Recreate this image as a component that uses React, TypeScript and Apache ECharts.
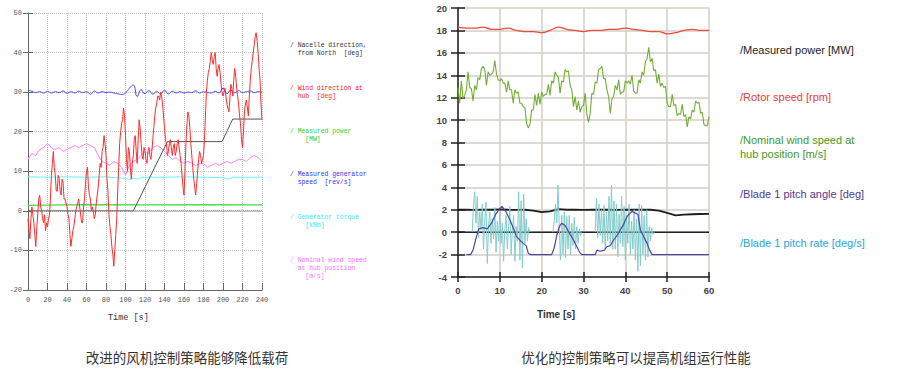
import React, { useEffect, useRef } from "react";
import * as echarts from "echarts";

// ---------------- Left chart data (time step 1 s / 4 s) ----------------
const WIND_DIR_STEP = 1;
const windDirV = [
  -2, -5, -7, -2, 1, -1, -3, -6, -9, -4,
  -1, 3, 4, 1, 0, -2, -3, -1, -5, -3,
  -4, -2, -1, 3, 9, 12, 15, 11, 9, 5,
  5, 9, 8, 5, 4, 8, 7, 3, 3, 2,
  1, -1, -2, -6, -9, -7, -5, -4, -2, 0,
  1, 2, 3, 1, -1, -3, -3, 1, 3, 7,
  10, 11, 6, 4, 3, 0, 1, 0, -2, -1,
  2, 4, 6, 9, 12, 11, 15, 16, 19, 17,
  14, 8, 5, -1, -4, -6, -9, -11, -14, -10,
  -6, -2, 5, 11, 17, 20, 22, 23, 26, 24,
  19, 13, 10, 16, 15, 11, 8, 12, 14, 18,
  19, 15, 12, 18, 23, 21, 17, 14, 13, 16,
  15, 13, 12, 15, 16, 14, 13, 15, 18, 21,
  24, 26, 27, 29, 29, 28, 30, 29, 27, 24,
  21, 18, 17, 14, 15, 17, 18, 16, 14, 16,
  17, 14, 15, 17, 18, 16, 14, 12, 9, 6,
  4, 10, 17, 22, 25, 24, 21, 17, 14, 11,
  8, 6, 4, 7, 10, 13, 15, 14, 12, 13,
  14, 18, 24, 30, 33, 35, 36, 38, 40, 38,
  37, 39, 40, 36, 34, 36, 37, 35, 32, 30,
  29, 30, 31, 29, 27, 26, 25, 28, 32, 31,
  29, 33, 36, 34, 31, 29, 27, 24, 22, 18,
  16, 20, 25, 27, 28, 26, 24, 29, 33, 36,
  38, 40, 42, 44, 45, 43, 40, 36, 33, 27,
  23,
];

const SLOW_STEP = 4;
const genSpeedV = [
  30.5, 30.2, 29.9, 30.1, 29.8, 30.2, 29.8, 30.1, 29.9, 30.3,
  29.7, 30.1, 29.8, 30.2, 29.9, 30.1, 29.5, 30.3, 29.8, 30.1,
  29.9, 30.0, 29.8, 29.6, 29.4, 29.8, 31.0, 31.8, 28.9, 30.6,
  29.6, 30.4, 29.5, 30.1, 29.6, 30.5, 29.5, 30.2, 29.8, 30.1,
  29.8, 30.0, 29.9, 30.3, 29.8, 30.1, 29.9, 29.8, 30.2, 29.8,
  31.0, 29.6, 30.5, 29.8, 30.4, 29.9, 30.1, 30.3, 29.9, 30.1,
  30.0,
];
const hubWindV = [
  13, 14.5, 14, 15.5, 16, 17, 16, 15.5, 16, 15,
  15.5, 16, 16.5, 16, 16.5, 17, 16.5, 16, 14, 12.5,
  12, 11.5, 12.5, 12, 11, 9, 11.5, 12.5, 13, 14,
  15, 14.5, 16, 16.5, 16, 15, 14, 13, 13.5, 12.5,
  12, 12.5, 12, 11.5, 12, 12, 11, 11.5, 12, 11.5,
  12, 12.5, 12, 12.5, 13, 13, 12.5, 13.5, 14, 13.5,
  12.5,
];

const torqueT = [0, 20, 40, 60, 80, 100, 104, 108, 112, 116, 120, 140, 160, 180, 200, 205, 210, 240];
const torqueV = [8.6, 8.5, 8.6, 8.5, 8.6, 8.2, 7.9, 8.3, 8.0, 8.4, 8.5, 8.5, 8.6, 8.5, 8.4, 8.0, 8.5, 8.5];

const powerLT = [0, 60, 120, 180, 240];
const powerLV = [1.4, 1.6, 1.5, 1.6, 1.5];

const nacelleT = [0, 108, 143, 199, 210, 240];
const nacelleV = [0, 0, 17.5, 17.5, 23.2, 23.2];

const zeroRefT = [108, 240];
const zeroRefV = [0, 0];

// ---------------- Right chart data ----------------
const WIND_R_STEP = 0.4;
const windRV = [
  12.9, 11.5, 13.5, 11.9, 12.2, 12.7, 14.3, 12.9, 12.8, 11.7,
  13.1, 12.7, 13.8, 13.6, 14.6, 14.8, 14.5, 13.1, 14.3, 14.0,
  14.1, 14.3, 15.3, 14.1, 13.6, 13.5, 13.7, 13.3, 13.3, 12.5,
  13.5, 12.7, 12.7, 11.5, 12.7, 12.4, 12.5, 11.5, 11.5, 11.2,
  11.1, 9.7, 9.3, 9.6, 10.9, 10.9, 12.3, 11.3, 12.4, 11.4,
  12.5, 12.1, 12.3, 12.3, 13.2, 12.2, 13.5, 13.3, 14.3, 14.0,
  13.8, 12.4, 13.5, 13.4, 14.5, 14.3, 14.4, 13.1, 12.7, 11.2,
  12.1, 10.9, 11.7, 10.7, 11.2, 11.3, 12.4, 10.5, 9.8, 10.6,
  12.4, 12.3, 13.4, 13.3, 14.5, 14.6, 14.8, 13.7, 13.7, 12.7,
  12.1, 10.6, 11.9, 12.1, 13.1, 12.7, 13.6, 12.3, 12.5, 12.5,
  13.5, 13.3, 13.5, 13.2, 14.0, 12.6, 12.4, 12.4, 13.6, 13.3,
  14.3, 14.0, 15.2, 15.5, 16.5, 15.2, 15.5, 14.4, 14.5, 13.3,
  14.1, 13.0, 13.3, 12.9, 13.0, 11.5, 11.2, 11.2, 12.3, 11.3,
  11.4, 10.4, 10.6, 10.5, 11.4, 10.3, 10.5, 9.4, 10.3, 10.1,
  10.9, 10.7, 11.7, 11.5, 11.6, 10.6, 10.7, 9.6, 9.5, 9.5,
  10.3,
];

const R_STEP = 2;
const rotorV = [
  18.3, 18.2, 18.2, 18.3, 18.1, 18.1, 18.2, 18.0, 17.9, 17.9,
  17.8, 18.0, 18.3, 18.1, 18.0, 17.9, 18.0, 18.0, 18.1, 18.1,
  18.2, 18.1, 18.0, 17.9, 17.9, 17.7, 17.8, 18.0, 18.1, 18.0,
  18.0,
];
const powerRV = [
  2.0, 2.02, 1.98, 2.02, 2.0, 2.03, 2.0, 1.98, 2.0, 1.92,
  1.78, 1.85, 2.05, 2.0, 2.0, 1.98, 2.0, 2.02, 2.0, 1.98,
  2.0, 2.02, 2.0, 2.0, 1.92, 1.72, 1.5, 1.56, 1.6, 1.62,
  1.64,
];

const zeroRT = [0, 60];
const zeroRV = [0, 0];

const pitchAngleT = [
  2, 3, 3.6, 4.4, 5, 6, 7, 8, 9, 10,
  10.5, 11.5, 12.4, 13.2, 14, 15, 15.6, 16.3, 16.8, 17.4,
  22.4, 23, 23.6, 24.2, 24.8, 25.6, 26.8, 27.6, 28.4, 29.1,
  29.6, 32.8, 33.2, 34, 35, 35.6, 36.4, 37.2, 38, 38.8,
  39.6, 40.4, 41.6, 42.4, 43, 43.6, 44.4, 45.2, 45.8, 46.4,
  60,
];
const pitchAngleV = [
  -2, -2, -1.6, -0.4, 0.3, 0.4, 0.3, 0.8, 1.6, 2.1,
  2.3, 1.8, 1.1, 0.4, -0.4, -0.8, -1.0, -1.2, -1.9, -2,
  -2, -1.4, -0.3, 0.5, 0.8, 0.6, -0.2, -0.7, -1.3, -1.8,
  -2, -2, -1.6, -1.7, -1.6, -1.3, -1.2, -0.7, -0.3, 0.2,
  0.7, 1.4, 1.85, 1.7, 1.6, 0.2, -0.4, -1.0, -1.6, -2,
  -2,
];

const RATE_STEP = 0.3;
const rate1Start = 3.4;
const rate1V = [
  0, 2.5, 3.6, 0.8, 3.2, -0.5, 1.8, 0.2, 2.5, -1.5,
  1.2, 2.7, -2.8, 0.5, 1.8, -1.0, 1.2, -0.6, 2.2, -1.8,
  1.0, -0.8, 1.8, -1.0, 0.8, -2.6, 0.3, 1.5, -1.5, 0.5,
  2.3, -2.0, 0.2, 1.5, -2.6, 0.5, -0.8, 3.6, -2.5, 2.8,
  -3.2, 3.4, -1.0, 1.2, -0.8, 0.4, 0,
];
const rate2Start = 22.7;
const rate2V = [
  0, 1.0, 2.5, 0.8, 4.2, 0.5, -2.5, 1.5, -2.0, 1.8,
  -2.3, 1.4, -1.5, 1.5, -2.0, 0.8, -1.2, 1.3, -1.5, 0.5,
  -1.0, 0.3, -0.3, 0,
];
const rate3Start = 32.8;
const rate3V = [
  0, 3.0, -0.5, 2.5, -0.3, 2.0, -1.0, 2.4, -1.5, 1.8,
  -0.8, 3.2, -1.0, 4.2, -1.5, 2.8, -1.5, 2.5, -2.2, 1.6,
  -1.0, 3.2, -1.3, 2.3, -2.5, 1.5, -1.0, 2.5, -2.0, 1.0,
  -1.5, 2.0, -2.5, 1.2, -3.5, 2.5, -3.0, 2.4, -2.0, 1.5,
  -2.5, 2.0, -2.2, 0.5, -0.8, 0.4, -0.2, 0,
];

// ---------------- Texts ----------------
const leftLegend = [
  { text: "/ Nacelle direction,\n  from North  [deg]", color: "#333333", top: 41 },
  { text: "/ Wind direction at\n  hub  [deg]", color: "#ff2020", top: 84 },
  { text: "/ Measured power\n    [MW]", color: "#30d030", top: 127 },
  { text: "/ Measured generator\n  speed  [rev/s]", color: "#3030ff", top: 170 },
  { text: "/ Generator torque\n    [kNm]", color: "#40e8f0", top: 213 },
  { text: "/ Nominal wind speed\n  at hub position\n    [m/s]", color: "#ff70ff", top: 256 },
];
const rightLegend = [
  { text: "/Measured power [MW]", color: "#222222", top: 43 },
  { text: "/Rotor speed [rpm]", color: "#e8412f", top: 90 },
  { text: "/Nominal wind speed at\nhub position [m/s]", color: "#3f9a2a", top: 133 },
  { text: "/Blade 1 pitch angle [deg]", color: "#4f3a8e", top: 187 },
  { text: "/Blade 1 pitch rate [deg/s]", color: "#1fa6dc", top: 236 },
];
const captionLeft = "改进的风机控制策略能够降低载荷";
const captionRight = "优化的控制策略可以提高机组运行性能";
const xTitle = "Time [s]";

const stepped = (vals: number[], step: number, start = 0) =>
  vals.map((v, i) => [+(start + i * step).toFixed(3), v]);
const zip = (t: number[], v: number[]) => t.map((x, i) => [x, v[i]]);

const SANS = '"Liberation Sans", Arial, sans-serif';
const MONO = '"Liberation Mono", "DejaVu Sans Mono", monospace';

export default function App() {
  const ref = useRef<HTMLDivElement>(null);
  useEffect(() => {
    if (!ref.current) return;
    const chart = echarts.init(ref.current, undefined, { renderer: "svg" });

    const line = (
      data: any[],
      color: string,
      xi: number,
      yi: number,
      width = 1,
      extra: any = {}
    ) => ({
      type: "line",
      data,
      xAxisIndex: xi,
      yAxisIndex: yi,
      showSymbol: false,
      symbol: "none",
      silent: true,
      lineStyle: { color, width, ...(extra.lineStyle || {}) },
      ...(extra.smooth ? { smooth: extra.smooth } : {}),
      z: extra.z ?? 2,
    });

    const graphics: any[] = [];
    leftLegend.forEach((l) =>
      graphics.push({
        type: "text",
        x: 290,
        y: l.top,
        style: { text: l.text, fill: l.color, font: `6.4px ${MONO}`, lineHeight: 8 },
      })
    );
    rightLegend.forEach((l) =>
      graphics.push({
        type: "text",
        x: 740,
        y: l.top,
        style: { text: l.text, fill: l.color, font: `11px ${SANS}`, lineHeight: 14 },
      })
    );
    graphics.push({
      type: "text",
      x: 108,
      y: 313,
      style: { text: xTitle, fill: "#333", font: `8.5px ${MONO}` },
    });
    graphics.push({
      type: "text",
      x: 537,
      y: 309,
      style: { text: xTitle, fill: "#333", font: `bold 10px ${SANS}` },
    });
    graphics.push({
      type: "text",
      x: 187,
      y: 350,
      style: {
        text: captionLeft,
        fill: "#333",
        font: `13.5px "Noto Sans CJK SC", sans-serif`,
        textAlign: "center",
      },
    });
    graphics.push({
      type: "text",
      x: 636,
      y: 350,
      style: {
        text: captionRight,
        fill: "#333",
        font: `13.5px "Noto Sans CJK SC", sans-serif`,
        textAlign: "center",
      },
    });

    const leftLabel = { fontSize: 7, color: "#555", fontFamily: MONO };
    const rightLabel = { fontSize: 9.5, color: "#444", fontFamily: SANS, fontWeight: "bold" };

    chart.setOption({
      animation: false,
      backgroundColor: "#ffffff",
      grid: [
        { left: 28, top: 13, width: 234, height: 277 },
        { left: 458, top: 8, width: 251, height: 269 },
      ],
      xAxis: [
        {
          gridIndex: 0,
          type: "value",
          min: 0,
          max: 240,
          interval: 20,
          position: "bottom",
          axisLine: { show: true, onZero: false, lineStyle: { color: "#666", width: 1 } },
          axisTick: { show: true, inside: true, length: 7, lineStyle: { color: "#666" } },
          axisLabel: { ...leftLabel, margin: 6 },
          splitLine: { show: true, lineStyle: { type: "dotted", color: "#c4c4c4" } },
        },
        {
          gridIndex: 1,
          type: "value",
          min: 0,
          max: 60,
          interval: 10,
          position: "bottom",
          axisLine: { show: true, onZero: false, lineStyle: { color: "#222", width: 1.5 } },
          axisTick: { show: true, length: 5, lineStyle: { color: "#222", width: 1.5 } },
          axisLabel: { ...rightLabel, margin: 8 },
          splitLine: { show: true, lineStyle: { color: "#d3ccc5", width: 1.5 } },
        },
        {
          gridIndex: 1,
          type: "value",
          min: 0,
          max: 60,
          interval: 10,
          position: "bottom",
          axisLine: { show: false, onZero: false },
          axisTick: { show: true, inside: true, length: 5, lineStyle: { color: "#222", width: 1.5 } },
          axisLabel: { show: false },
          splitLine: { show: false },
        },
      ],
      yAxis: [
        {
          gridIndex: 0,
          type: "value",
          min: -20,
          max: 50,
          interval: 10,
          position: "left",
          axisLine: { show: true, onZero: false, lineStyle: { color: "#666", width: 1 } },
          axisTick: { show: true, length: 5, lineStyle: { color: "#666" } },
          axisLabel: { ...leftLabel, margin: 6 },
          splitLine: { show: true, lineStyle: { type: "dotted", color: "#c4c4c4" } },
        },
        {
          gridIndex: 0,
          type: "value",
          min: -20,
          max: 50,
          interval: 10,
          position: "left",
          axisLine: { show: false, onZero: false },
          axisTick: { show: true, inside: true, length: 5, lineStyle: { color: "#666" } },
          axisLabel: { show: false },
          splitLine: { show: false },
        },
        {
          gridIndex: 1,
          type: "value",
          min: -4,
          max: 20,
          interval: 2,
          position: "left",
          axisLine: { show: true, onZero: false, lineStyle: { color: "#222", width: 1.5 } },
          axisTick: { show: true, length: 7, lineStyle: { color: "#222", width: 1.5 } },
          axisLabel: { ...rightLabel, margin: 11 },
          splitLine: { show: true, lineStyle: { color: "#d3ccc5", width: 1.5 } },
        },
        {
          gridIndex: 1,
          type: "value",
          min: -4,
          max: 20,
          interval: 2,
          position: "left",
          axisLine: { show: false, onZero: false },
          axisTick: { show: true, inside: true, length: 7, lineStyle: { color: "#222", width: 1.5 } },
          axisLabel: { show: false },
          splitLine: { show: false },
        },
      ],
      series: [
        // left
        line(zip(zeroRefT, zeroRefV), "#333", 0, 0, 1, { lineStyle: { type: "dotted" } }),
        line(zip(powerLT, powerLV), "#44dd44", 0, 0, 1.2),
        line(zip(torqueT, torqueV), "#66f4ff", 0, 0, 1),
        line(stepped(hubWindV, SLOW_STEP), "#ff80ff", 0, 0, 1),
        line(stepped(genSpeedV, SLOW_STEP), "#4646ff", 0, 0, 1, { smooth: 0.5 }),
        line(zip(nacelleT, nacelleV), "#555", 0, 0, 1),
        line(stepped(windDirV, WIND_DIR_STEP), "#ff2a2a", 0, 0, 1, { z: 3 }),
        // right
        line(zip(zeroRT, zeroRV), "#222", 1, 2, 1.5),
        line(stepped(powerRV, R_STEP), "#1e1e1e", 1, 2, 1.8),
        line(stepped(rate1V, RATE_STEP, rate1Start), "#84cccc", 1, 2, 1, { z: 3 }),
        line(stepped(rate2V, RATE_STEP, rate2Start), "#84cccc", 1, 2, 1, { z: 3 }),
        line(stepped(rate3V, RATE_STEP, rate3Start), "#84cccc", 1, 2, 1, { z: 3 }),
        line(zip(pitchAngleT, pitchAngleV), "#4d44a0", 1, 2, 1.2, { z: 4 }),
        line(stepped(rotorV, R_STEP), "#ec4a3a", 1, 2, 1.3, { smooth: 0.4 }),
        line(stepped(windRV, WIND_R_STEP), "#73ad35", 1, 2, 1.1),
      ],
      graphic: graphics,
    });
    return () => chart.dispose();
  }, []);

  return (
    <div
      ref={ref}
      style={{ position: "absolute", left: 0, top: 0, width: 911, height: 381, background: "#fff" }}
    />
  );
}
